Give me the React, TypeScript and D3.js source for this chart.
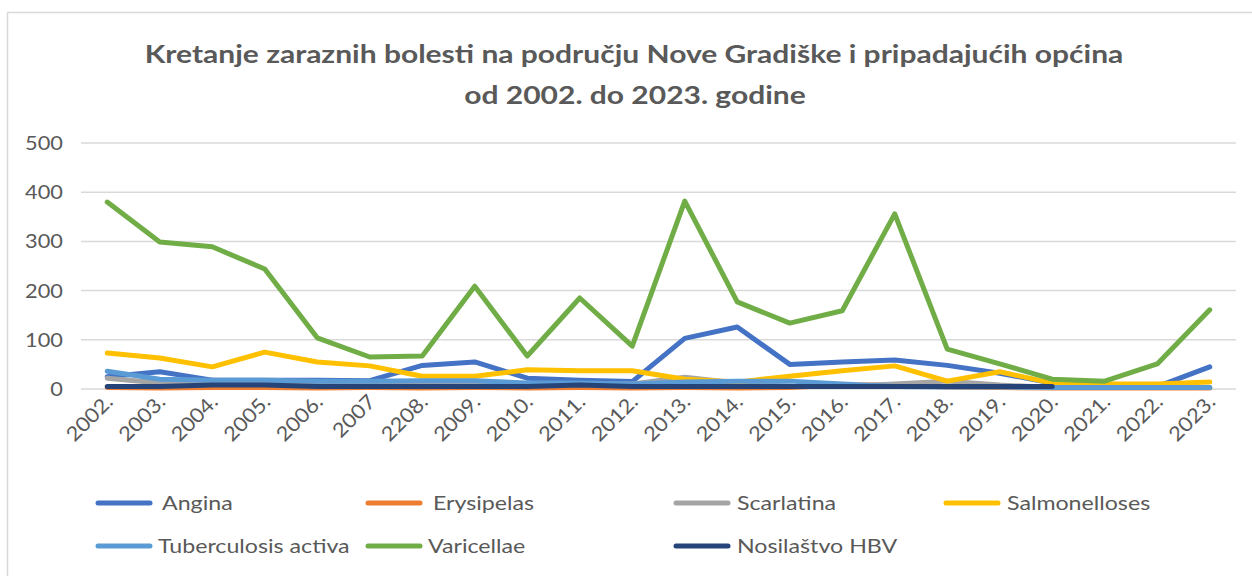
import React from "react";
import * as d3 from "d3";

const years = ["2002.", "2003.", "2004.", "2005.", "2006.", "2007", "2208.", "2009.", "2010.", "2011.", "2012.", "2013.", "2014.", "2015.", "2016.", "2017.", "2018.", "2019.", "2020.", "2021.", "2022.", "2023."];
const yTicks = [0, 100, 200, 300, 400, 500];

const angina = [25, 35, 18, 18, 18, 17, 48, 55, 22, 18, 15, 103, 126, 50, 55, 59, 48, 32, 12, 6, 5, 45];
const erysipelas = [3, 2, 3, 3, 2, 3, 2, 3, 2, 3, 2, 3, 2, 3, 8, 8, 4, 3, 2, 2, 2, 2];
const scarlatina = [22, 12, 18, 14, 10, 10, 10, 10, 10, 10, 10, 24, 12, 5, 5, 10, 16, 8, 3, 3, 3, 3];
const salmonelloses = [73, 63, 45, 75, 55, 47, 26, 26, 39, 37, 37, 20, 14, 26, 37, 47, 16, 35, 12, 10, 10, 14];
const tuberculosis = [36, 20, 18, 18, 16, 16, 17, 17, 12, 12, 10, 14, 16, 16, 10, 5, 4, 4, 3, 3, 3, 3];
const varicellae = [380, 299, 289, 244, 104, 65, 67, 209, 67, 185, 87, 382, 177, 134, 159, 356, 81, 51, 20, 16, 51, 161];
const hbv: (number | null)[] = [5, 5, 8, 8, 5, 5, 5, 5, 5, 8, 5, 5, 5, 5, 5, 5, 5, 5, 5, null, null, null];

const seriesNames = ["Angina", "Erysipelas", "Scarlatina", "Salmonelloses", "Tuberculosis activa", "Varicellae", "Nosilaštvo HBV"];
const seriesValues = [angina, erysipelas, scarlatina, salmonelloses, tuberculosis, varicellae, hbv];
const colors = ["#4472C4", "#ED7D31", "#A5A5A5", "#FFC000", "#5B9BD5", "#70AD47", "#264478"];

const legendPos = [
  { x: 98, y: 503, tx: 162 },
  { x: 368, y: 503, tx: 433 },
  { x: 676, y: 503, tx: 737 },
  { x: 946, y: 503, tx: 1007 },
  { x: 98, y: 546, tx: 158 },
  { x: 368, y: 546, tx: 428 },
  { x: 676, y: 546, tx: 737 },
];

export default function App() {
  const W = 1252, H = 576;
  const x = d3.scalePoint<string>().domain(years).range([81, 1236]).padding(0.5);
  const y = d3.scaleLinear().domain([0, 500]).range([389, 143]);
  const line = d3
    .line<number | null>()
    .defined((d) => d !== null)
    .x((_, i) => x(years[i]) as number)
    .y((d) => y(d as number));
  const font = "Lato, 'Open Sans', sans-serif";
  const txt = "#595959";
  return (
    <svg width={W} height={H} style={{ position: "absolute", left: 0, top: 0 }}>
      <rect x={0} y={0} width={W} height={H} fill="#fff" />
      <rect x={7.5} y={12.5} width={1260} height={600} fill="#fff" stroke="#D9D9D9" strokeWidth={1.5} />
      <g transform="translate(634,63) scale(1.2,1)">
        <text textAnchor="middle" fontFamily={font} fontWeight="bold" fontSize={25} fill={txt}>
          Kretanje zaraznih bolesti na području  Nove Gradiške i pripadajućih  općina
        </text>
      </g>
      <g transform="translate(635,104) scale(1.2,1)">
        <text textAnchor="middle" fontFamily={font} fontWeight="bold" fontSize={25} fill={txt}>
          od 2002. do 2023. godine
        </text>
      </g>
      {yTicks.map((t) => (
        <g key={t}>
          <line x1={81} x2={1236} y1={y(t)} y2={y(t)} stroke="#D9D9D9" strokeWidth={1.5} />
          <text
            transform={`translate(63,${y(t) + 7}) scale(1.09,1)`}
            textAnchor="end"
            fontFamily={font}
            fontSize={20}
            fill={txt}
          >
            {t}
          </text>
        </g>
      ))}
      {years.map((yr) => (
        <text
          key={yr}
          transform={`translate(${(x(yr) as number) + 7},${403}) rotate(-45) scale(1.1,1)`}
          textAnchor="end"
          fontFamily={font}
          fontSize={20}
          fill={txt}
        >
          {yr}
        </text>
      ))}
      {seriesValues.map((vals, i) => (
        <path
          key={seriesNames[i]}
          d={line(vals) || ""}
          fill="none"
          stroke={colors[i]}
          strokeWidth={5}
          strokeLinejoin="round"
          strokeLinecap="round"
        />
      ))}
      {seriesNames.map((n, i) => (
        <g key={n}>
          <line
            x1={legendPos[i].x}
            x2={legendPos[i].x + 52}
            y1={legendPos[i].y}
            y2={legendPos[i].y}
            stroke={colors[i]}
            strokeWidth={5}
            strokeLinecap="round"
          />
          <text
            transform={`translate(${legendPos[i].tx},${legendPos[i].y + 7}) scale(1.16,1)`}
            fontFamily={font}
            fontSize={20}
            fill={txt}
          >
            {n}
          </text>
        </g>
      ))}
    </svg>
  );
}
